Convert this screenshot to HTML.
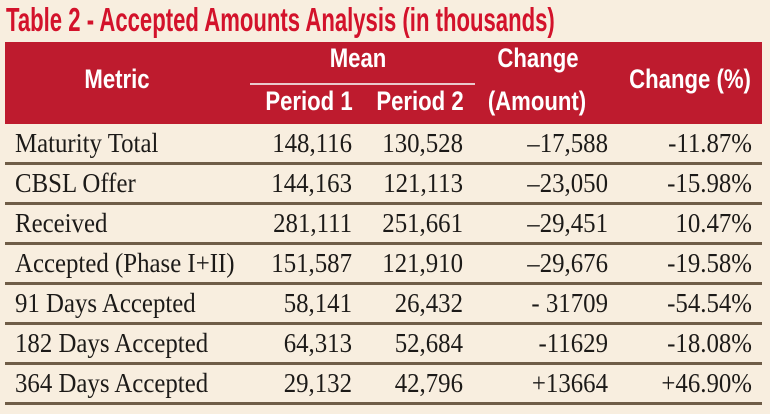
<!DOCTYPE html>
<html><head><meta charset="utf-8"><style>
body{margin:0;width:770px;height:414px;background:#f8eedf;position:relative;overflow:hidden}
.t{position:absolute;white-space:nowrap}
.title{left:6px;top:1px;font:bold 33px "Liberation Sans Narrow","Liberation Sans",sans-serif;color:#d3122b;transform:scaleX(0.67);transform-origin:left top}
.hdr{position:absolute;left:5px;top:42px;width:757px;height:82px;background:#be1b2e}
.h{position:absolute;color:#fff;font:bold 27px "Liberation Sans Narrow","Liberation Sans",sans-serif;white-space:nowrap;transform:translateX(-50%) scaleX(0.82)}
.line{position:absolute;left:5px;width:757px;height:3px;background:#6f5d47}
.c{position:absolute;font:27px "Liberation Serif",serif;color:#1c1a18;white-space:nowrap;transform:scaleX(0.92);transform-origin:left top}
.r{transform:translateX(-100%) scaleX(0.92);transform-origin:right top}
</style></head><body>
<div class="t title">Table 2 - Accepted Amounts Analysis (in thousands)</div>
<div class="hdr"></div>
<div class="h" style="left:117px;top:64px">Metric</div>
<div class="h" style="left:358px;top:43px">Mean</div>
<div style="position:absolute;left:250px;top:83px;width:225px;height:2px;background:#e9c9cc"></div>
<div class="h" style="left:309px;top:86px">Period 1</div>
<div class="h" style="left:420px;top:86px">Period 2</div>
<div class="h" style="left:538px;top:43px">Change</div>
<div class="h" style="left:537px;top:86px">(Amount)</div>
<div class="h" style="left:690px;top:64px">Change (%)</div>
<div id="rows"></div>
<script>
const metrics=["Maturity Total","CBSL Offer","Received","Accepted (Phase I+II)","91 Days Accepted","182 Days Accepted","364 Days Accepted"];
const period1=["148,116","144,163","281,111","151,587","58,141","64,313","29,132"];
const period2=["130,528","121,113","251,661","121,910","26,432","52,684","42,796"];
const changeAmt=["\u201317,588","\u201323,050","\u201329,451","\u201329,676","- 31709","-11629","+13664"];
const changePct=["-11.87%","-15.98%","10.47%","-19.58%","-54.54%","-18.08%","+46.90%"];
const root=document.getElementById('rows');
function cell(txt,x,y,right,name){
  const d=document.createElement('div');
  d.className='c'+(right?' r':'');
  d.style.left=x+'px';d.style.top=y+'px';d.textContent=txt;
  
  
  root.appendChild(d);
}
metrics.forEach((m,i)=>{
  const y=128+i*40;
  cell(m,15,y,false,'metric-label');
  cell(period1[i],352,y,true,'period-1-value');
  cell(period2[i],463,y,true,'period-2-value');
  cell(changeAmt[i],608,y,true,'change-amount-value');
  cell(changePct[i],752,y,true,'change-pct-value');
  const l=document.createElement('div');
  l.className='line';l.style.top=(162+i*40)+'px';
  
  
  root.appendChild(l);
});
</script>
</body></html>
